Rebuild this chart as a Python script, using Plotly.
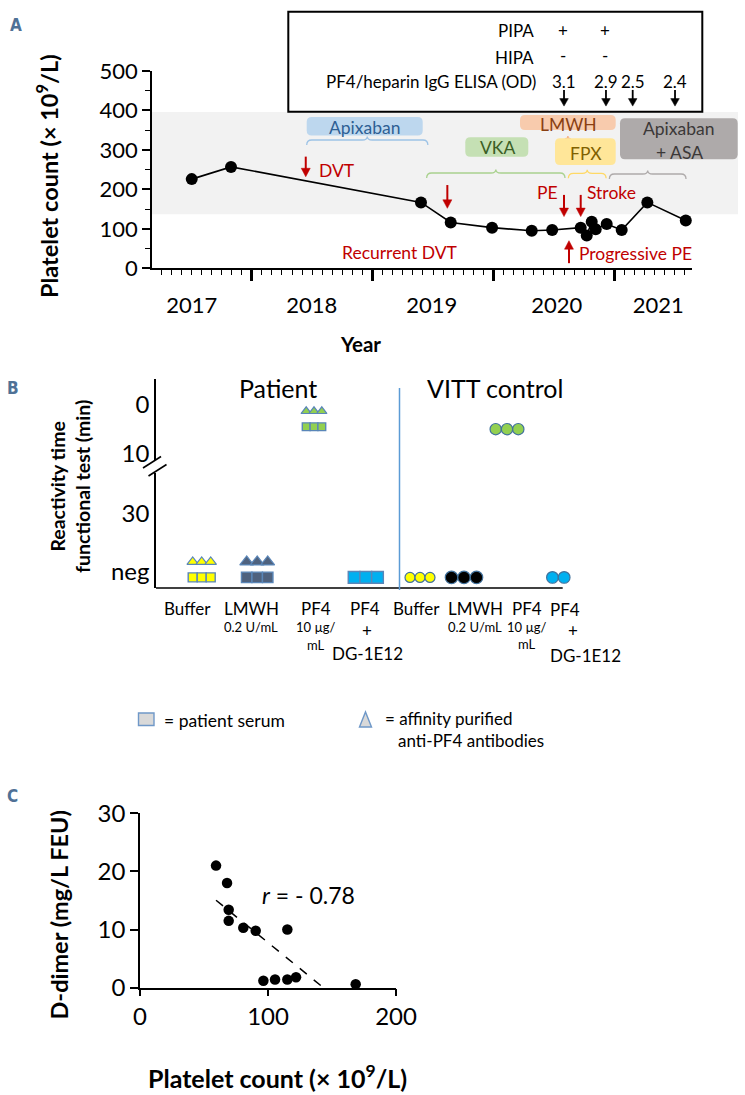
import numpy as np
import plotly.graph_objects as go

W, H = 745, 1095
FONT = "Lato"
RED = "#c00000"
LABEL_COL = "#4f7196"


def PX(x):
    return x / W


def PY(y):
    return 1 - y / H


# ---------------- Panel A data ----------------
A_YEARS = [2017.504, 2017.829, 2019.400, 2019.646, 2019.988, 2020.316, 2020.485,
           2020.721, 2020.771, 2020.812, 2020.845, 2020.936, 2021.060, 2021.272, 2021.590]
A_PLATELETS = [226, 257, 167, 116, 103, 95, 97, 103, 83, 118, 99, 112, 97, 167, 121]
A_YEAR_LABELS = ["2017", "2018", "2019", "2020", "2021"]
A_YEAR_LABEL_POS = [2017.504, 2018.496, 2019.489, 2020.523, 2021.363]
A_YEAR_BOUNDARIES = [2018, 2019, 2020, 2021]
A_Y_TICKS = [0, 100, 200, 300, 400, 500]
A_NORMAL_RANGE = [137, 396]

EVENT_NAMES = ["DVT", "Recurrent DVT", "PE", "Stroke", "Progressive PE"]
EVENT_YEARS = [2018.447, 2019.618, 2020.583, 2020.721, 2020.624]
EVENT_TAIL = [283, 211, 186, 186, 13]
EVENT_TIP = [232, 152, 131, 131, 70]

ELISA_YEARS = [2020.583, 2020.930, 2021.151, 2021.501]
ELISA_OD = ["3.1", "2.9", "2.5", "2.4"]
PIPA = ["+", "+", "", ""]
HIPA = ["-", "-", "", ""]

TREAT_NAMES = ["Apixaban", "VKA", "LMWH", "FPX", "Apixaban<br>+ ASA"]
TREAT_START = [2018.455, 2019.447, 2020.590, 2020.619, 2020.958]
TREAT_END = [2019.457, 2020.591, 2020.640, 2020.931, 2021.592]

# ---------------- Panel B data ----------------
B_GROUPS = ["Patient", "VITT control"]
B_CONDITIONS = [["Buffer"], ["LMWH", "0.2 U/mL"], ["PF4", "10 µg/", "mL"], ["PF4", "+", "DG-1E12"]]
B_Y_LABELS = ["0", "10", "30", "neg"]
B_PATIENT_SERUM = ["neg", "neg", 4.5, "neg"]
B_PATIENT_AB = ["neg", "neg", 4.5, None]
B_VITT = ["neg", "neg", 5.0, "neg"]
B_PATIENT_N = [3, 3, 3, 3]
B_PATIENT_AB_N = [3, 3, 3, 0]
B_VITT_N = [3, 3, 3, 2]

# ---------------- Panel C data ----------------
C_PLATELETS = [59.4, 68.0, 69.3, 69.3, 80.7, 90.4, 115.1, 96.4, 105.5, 115.1, 121.9, 168.5]
C_DDIMER = [21.0, 18.0, 13.4, 11.5, 10.3, 9.8, 10.0, 1.2, 1.4, 1.4, 1.8, 0.6]

# ---------------- layout geometry ----------------
A_XDOM = [PX(152), PX(691.7)]
A_XRANGE = [2017.1754, 2021.639]
A_YDOM = [PY(268.3), PY(71)]
A_YRANGE = [0, 500]


def a_px(year):
    return 152 + (year - A_XRANGE[0]) / (A_XRANGE[1] - A_XRANGE[0]) * (691.7 - 152)


def a_py(val):
    return 268.3 - (val - A_YRANGE[0]) / (A_YRANGE[1] - A_YRANGE[0]) * (268.3 - 71)


B_XDOM = [PX(156), PX(656)]
B_XRANGE = [0, 10]
B_YDOM = [PY(588), PY(379.3)]
B_YRANGE = [37.89, -5.32]
B_TICK_POS = [0, 10, 22.42, 34.5]
NEG_POS = 35.7
TRI_LIFT = 3.2
B_PAT_MARK_X = [0.914, 2.024, 3.16, 4.196]
B_VITT_MARK_X = [5.28, 6.16, 7.02, 8.046]
B_LABEL_LAYOUT = [
    [[(0.63, 608.3)], [(1.90, 608.3), (1.90, 626.7)], [(3.20, 608.3), (3.20, 627), (3.20, 645)],
     [(4.18, 608.3), (4.22, 630.7), (4.22, 653.3)]],
    [[(5.21, 608.3)], [(6.38, 608.3), (6.38, 626.7)], [(7.41, 608.3), (7.41, 627), (7.41, 644)],
     [(8.18, 609.3), (8.34, 630), (8.58, 655.7)]],
]

C_XDOM = [PX(140), PX(396)]
C_YDOM = [PY(987.7), PY(813.3)]


def b_y(t):
    return NEG_POS if t == "neg" else t


fig = go.Figure()

fig.add_trace(go.Scatter(x=A_YEARS, y=A_PLATELETS, mode="lines+markers",
                         line=dict(color="black", width=1.6),
                         marker=dict(color="black", size=12),
                         xaxis="x", yaxis="y", cliponaxis=False,
                         showlegend=False, hoverinfo="skip"))
fig.add_trace(go.Scatter(x=[A_XRANGE[0]], y=[-100], mode="markers", marker=dict(size=1, opacity=0),
                         xaxis="x2", yaxis="y", showlegend=False, hoverinfo="skip"))

sq_cols = ["#ffff00", "#4f627e", "#92d050", "#00b0f0"]
vitt_cols = ["#ffff00", "#000000", "#92d050", "#00b0f0"]
sq_sizes = [9, 10.5, 7.8, 11.7]
tri_sizes = [10, 12, 9]
circ_sizes = [10, 12.5, 11.3, 11.7]
units_per_px = (B_XRANGE[1] - B_XRANGE[0]) / (656 - 156)

for i in range(4):
    n = B_PATIENT_N[i]
    if n:
        xs = [B_PAT_MARK_X[i] + (k - (n - 1) / 2) * sq_sizes[i] * units_per_px for k in range(n)]
        fig.add_trace(go.Scatter(x=xs, y=[b_y(B_PATIENT_SERUM[i])] * n, mode="markers",
                                 marker=dict(symbol="square", size=sq_sizes[i], color=sq_cols[i],
                                             line=dict(color="#5a86b8", width=1.4)),
                                 xaxis="x3", yaxis="y3", cliponaxis=False, showlegend=False,
                                 hoverinfo="skip"))
    n = B_PATIENT_AB_N[i]
    if n:
        step = sq_sizes[i] * units_per_px
        xs = [B_PAT_MARK_X[i] + (k - (n - 1) / 2) * step for k in range(n)]
        fig.add_trace(go.Scatter(x=xs, y=[b_y(B_PATIENT_AB[i]) - TRI_LIFT] * n, mode="markers",
                                 marker=dict(symbol="triangle-up", size=tri_sizes[i], color=sq_cols[i],
                                             line=dict(color="#5a86b8", width=1.2)),
                                 xaxis="x3", yaxis="y3", cliponaxis=False, showlegend=False,
                                 hoverinfo="skip"))
    n = B_VITT_N[i]
    if n:
        xs = [B_VITT_MARK_X[i] + (k - (n - 1) / 2) * circ_sizes[i] * units_per_px for k in range(n)]
        fig.add_trace(go.Scatter(x=xs, y=[b_y(B_VITT[i])] * n, mode="markers",
                                 marker=dict(symbol="circle", size=circ_sizes[i], color=vitt_cols[i],
                                             line=dict(color="#41719c", width=1.2)),
                                 xaxis="x3", yaxis="y3", cliponaxis=False, showlegend=False,
                                 hoverinfo="skip"))

cx = np.array(C_PLATELETS)
cy = np.array(C_DDIMER)
slope, intercept = np.polyfit(cx, cy, 1)
x_fit = np.array([cx.min(), -intercept / slope])
fig.add_trace(go.Scatter(x=x_fit, y=slope * x_fit + intercept, mode="lines",
                         line=dict(color="black", width=1.5, dash="dash"),
                         xaxis="x4", yaxis="y4", showlegend=False, hoverinfo="skip"))
fig.add_trace(go.Scatter(x=C_PLATELETS, y=C_DDIMER, mode="markers",
                         marker=dict(color="black", size=10.5),
                         xaxis="x4", yaxis="y4", cliponaxis=False, showlegend=False,
                         hoverinfo="skip"))

ax_common = dict(showgrid=False, zeroline=False, linecolor="black", tickcolor="black",
                 automargin=False)

layout = dict(
    width=W, height=H, margin=dict(l=0, r=0, t=0, b=0, autoexpand=False),
    paper_bgcolor="white", plot_bgcolor="rgba(0,0,0,0)",
    font=dict(family=FONT, color="black"),
    xaxis=dict(domain=A_XDOM, range=A_XRANGE, anchor="y", showline=True, linewidth=1.5,
               tickmode="array", tickvals=A_YEAR_BOUNDARIES, ticks="outside", ticklen=11,
               tickwidth=3.2, showticklabels=False,
               minor=dict(tick0=2018, dtick=1 / 12, ticks="outside", ticklen=5, tickwidth=1.2,
                          tickcolor="black", showgrid=False),
               **ax_common),
    xaxis2=dict(domain=A_XDOM, range=A_XRANGE, anchor="y", overlaying="x", side="bottom",
                tickmode="array", tickvals=A_YEAR_LABEL_POS, ticktext=A_YEAR_LABELS,
                ticks="", showline=False, ticklabelstandoff=22, automargin=False,
                tickfont=dict(family=FONT, size=22, color="black"), showgrid=False, zeroline=False),
    yaxis=dict(domain=A_YDOM, range=A_YRANGE, anchor="x", showline=True, linewidth=1.5,
               tickmode="array", tickvals=A_Y_TICKS, ticks="outside", ticklen=8, tickwidth=1.5,
               minor=dict(dtick=50, tick0=0, ticks="outside", ticklen=5, tickwidth=1.2,
                          tickcolor="black", showgrid=False),
               tickfont=dict(family=FONT, size=22, color="black"), **ax_common),
    xaxis3=dict(domain=B_XDOM, range=B_XRANGE, anchor="y3", showline=False,
                showticklabels=False, ticks="", **ax_common),
    yaxis3=dict(domain=B_YDOM, range=B_YRANGE, anchor="x3", showline=True, linewidth=1.5,
                tickmode="array", tickvals=B_TICK_POS, ticktext=B_Y_LABELS, ticks="",
                tickfont=dict(family=FONT, size=24, color="black"), **ax_common),
    xaxis4=dict(domain=C_XDOM, range=[0, 200], anchor="y4", showline=True, linewidth=1.5,
                tickmode="array", tickvals=[0, 100, 200], ticks="outside", ticklen=7, tickwidth=1.5,
                tickfont=dict(family=FONT, size=24, color="black"), **ax_common),
    yaxis4=dict(domain=C_YDOM, range=[0, 30], anchor="x4", showline=True, linewidth=1.5,
                tickmode="array", tickvals=[0, 10, 20, 30], ticks="outside", ticklen=8, tickwidth=1.5,
                tickfont=dict(family=FONT, size=24, color="black"), **ax_common),
)

shapes = []
annotations = []


def P(x, y):
    return f"{PX(x):.5f},{PY(y):.5f}"


def txt(x, y, text, size, color="black", xanchor="center", angle=0, family=FONT, xref="paper",
        align="center"):
    annotations.append(dict(x=PX(x) if xref == "paper" else x, y=PY(y), xref=xref, yref="paper",
                            text=text, showarrow=False, xanchor=xanchor, yanchor="middle",
                            align=align, textangle=angle,
                            font=dict(family=family, size=size, color=color)))


def rrect(x0, y0, x1, y1, r, fill):
    path = (f"M {P(x0 + r, y0)} L {P(x1 - r, y0)} Q {P(x1, y0)} {P(x1, y0 + r)} "
            f"L {P(x1, y1 - r)} Q {P(x1, y1)} {P(x1 - r, y1)} L {P(x0 + r, y1)} "
            f"Q {P(x0, y1)} {P(x0, y1 - r)} L {P(x0, y0 + r)} Q {P(x0, y0)} {P(x0 + r, y0)} Z")
    shapes.append(dict(type="path", path=path, xref="paper", yref="paper", fillcolor=fill,
                       line=dict(width=0)))


def brace(x0, x1, yb, color, h=5, m=3.5):
    xm = (x0 + x1) / 2
    hh = min(h, (x1 - x0) / 4)
    path = (f"M {P(x0, yb + h)} Q {P(x0, yb)} {P(x0 + hh, yb)} L {P(xm - hh, yb)} "
            f"Q {P(xm, yb)} {P(xm, yb - m)} Q {P(xm, yb)} {P(xm + hh, yb)} "
            f"L {P(x1 - hh, yb)} Q {P(x1, yb)} {P(x1, yb + h)}")
    shapes.append(dict(type="path", path=path, xref="paper", yref="paper",
                       line=dict(color=color, width=1.3)))


def arrow(year, tail_val, tip_val, color, head_len=8.5, half_w=4.5, width=2):
    x = a_px(year)
    yt, yh = a_py(tail_val), a_py(tip_val)
    d = 1 if yh > yt else -1
    yb = yh - d * head_len
    shapes.append(dict(type="line", xref="paper", yref="paper", x0=PX(x), x1=PX(x),
                       y0=PY(yt), y1=PY(yb + d * 1), line=dict(color=color, width=width)))
    shapes.append(dict(type="path", xref="paper", yref="paper",
                       path=f"M {P(x, yh)} L {P(x - half_w, yb)} L {P(x + half_w, yb)} Z",
                       fillcolor=color, line=dict(color=color, width=0.5)))


# ---- Panel A decorations
shapes.append(dict(type="rect", xref="paper", yref="y", x0=PX(152), x1=PX(738),
                   y0=A_NORMAL_RANGE[0], y1=A_NORMAL_RANGE[1], fillcolor="#f2f2f2",
                   line=dict(width=0), layer="below"))
shapes.append(dict(type="rect", xref="paper", yref="paper", x0=PX(288.3), x1=PX(702.3),
                   y0=PY(111.7), y1=PY(11.7), line=dict(color="black", width=2)))
txt(536, 30.7, "PIPA", 17, xanchor="right")
txt(536, 57.3, "HIPA", 17, xanchor="right")
txt(537.5, 81.7, "PF4/heparin IgG ELISA (OD)", 17, xanchor="right")
for yr, od, pp, hp in zip(ELISA_YEARS, ELISA_OD, PIPA, HIPA):
    xp = a_px(yr)
    if pp:
        txt(xp - 1, 30.7, pp, 17)
    if hp:
        txt(xp - 1, 55.5, hp, 17)
    txt(xp, 81.7, od, 17)
    arrow(yr, 452, 411, "black", head_len=7.5, half_w=4.3, width=1.8)

box_geom = [(306.7, 117, 422.7, 135.5, 365, [127], "#bdd7ee", "#2e5f94", 140),
            (465.3, 137.3, 528.3, 156.7, 497, [147], "#c5e0b4", "#3b5e25", 173),
            (520, 115, 615.7, 130, 568, [124.5], "#f8cbad", "#8a3f12", 138.5),
            (555, 138.3, 615.7, 165, 585.5, [153.5], "#ffe699", "#7f6000", 173.3),
            (620, 118.3, 737.7, 159.3, 679.3, [128.5, 152.7], "#aeaaaa", "#3b3838", 174)]
brace_cols = ["#9dc3e6", "#a9d18e", "#f4b183", "#ffd966", "#aeaaaa"]
for (name, s, e, g, bc) in zip(TREAT_NAMES, TREAT_START, TREAT_END, box_geom, brace_cols):
    x0, y0, x1, y1, xc, ycs, fill, tcol, yb = g
    rrect(x0, y0, x1, y1, 5, fill)
    for ln, yc in zip(name.split("<br>"), ycs):
        txt(xc, yc, ln, 17.5, color=tcol)
    if name == "LMWH":
        brace(a_px(s), a_px(e), yb, bc, h=3, m=2.5)
    else:
        brace(a_px(s), a_px(e), yb, bc)

event_text_pos = [(317, 170.7, "left"), (399.5, 253, "center"), (559.5, 193, "right"),
                  (585, 192.7, "left"), (576.7, 253.3, "left")]
for nm, yr, tail, tip, (tx, ty, anc) in zip(EVENT_NAMES, EVENT_YEARS, EVENT_TAIL, EVENT_TIP,
                                             event_text_pos):
    arrow(yr, tail, tip, RED)
    txt(tx, ty, nm, 17.5, color=RED, xanchor=anc)

txt(48, 176, "<b>Platelet count (× 10<sup>9</sup>/L)</b>", 23.5, angle=-90)
txt(360, 344, "<b>Year</b>", 20.5)

# ---- Panel B decorations
shapes.append(dict(type="line", xref="paper", yref="paper", x0=PX(156), x1=PX(562.7),
                   y0=PY(588), y1=PY(588), line=dict(color="black", width=1.5)))
shapes.append(dict(type="line", xref="paper", yref="paper", x0=PX(399.5), x1=PX(399.5),
                   y0=PY(590), y1=PY(388), line=dict(color="#5b9bd5", width=1.5)))
shapes.append(dict(type="rect", xref="paper", yref="paper", x0=PX(153), x1=PX(159.5),
                   y0=PY(473), y1=PY(460), fillcolor="white", line=dict(width=0)))
shapes.append(dict(type="line", xref="paper", yref="paper", x0=PX(143), y0=PY(468),
                   x1=PX(161), y1=PY(456.5), line=dict(color="black", width=1.6)))
shapes.append(dict(type="line", xref="paper", yref="paper", x0=PX(148.5), y0=PY(476),
                   x1=PX(166.5), y1=PY(464.5), line=dict(color="black", width=1.6)))
txt(278.3, 388.3, B_GROUPS[0], 25)
txt(495, 388.3, B_GROUPS[1], 25)
txt(70, 487, "<b>Reactivity time<br>functional test (min)</b>", 19.5, angle=-90)
for grp in B_LABEL_LAYOUT:
    for cond_lines, pos in zip(B_CONDITIONS, grp):
        for li, (line_text, (ux, uy)) in enumerate(zip(cond_lines, pos)):
            small = li > 0 and line_text not in ("+", "DG-1E12")
            txt(ux, uy, line_text, 13 if small else 17, xref="x3")

# legend
shapes.append(dict(type="rect", xref="paper", yref="paper", x0=PX(138.5), x1=PX(154),
                   y0=PY(725.5), y1=PY(713), fillcolor="#d9d9d9",
                   line=dict(color="#6f98c8", width=1.4)))
shapes.append(dict(type="path", xref="paper", yref="paper",
                   path=f"M {P(359.5, 727)} L {P(365.5, 712)} L {P(371.5, 727)} Z",
                   fillcolor="#d9d9d9", line=dict(color="#6f98c8", width=1.4)))
txt(161.5, 720.5, "= patient serum", 17.5, xanchor="left")
txt(383, 729.5, "= affinity purified<br>&nbsp;&nbsp;&nbsp;anti-PF4 antibodies", 17,
    xanchor="left", align="left")

# ---- Panel C decorations
txt(308.3, 895, "<i>r</i> = - 0.78", 23)
txt(58.5, 915, "<b>D-dimer (mg/L FEU)</b>", 23.5, angle=-90)
txt(277, 1076.7, "<b>Platelet count (× 10<sup>9</sup>/L)</b>", 25)

# panel letters
txt(15.5, 25, "<b>A</b>", 17, color=LABEL_COL, family="DejaVu Sans Condensed")
txt(12.5, 387.5, "<b>B</b>", 17, color=LABEL_COL, family="DejaVu Sans Condensed")
txt(12.5, 795.5, "<b>C</b>", 17, color=LABEL_COL, family="DejaVu Sans Condensed")

layout["shapes"] = shapes
layout["annotations"] = annotations
fig.update_layout(**layout)

fig.write_html("out.html", config={"displayModeBar": False},
               post_script="document.body.style.margin='0';document.body.style.overflow='hidden';")
